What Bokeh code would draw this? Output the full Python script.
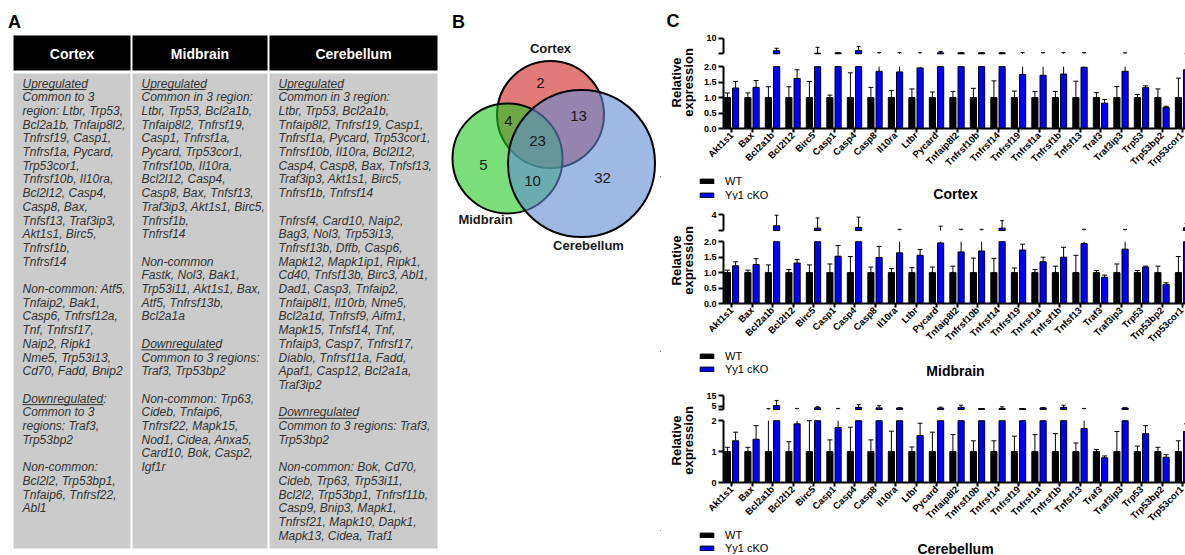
import numpy as np
from math import pi
from bokeh.plotting import figure
from bokeh.layouts import row, column
from bokeh.models import (Range1d, FixedTicker, NumeralTickFormatter,
                          Legend, LegendItem)
from bokeh.core.properties import value
from bokeh.embed import file_html
from bokeh.resources import INLINE

FONT = "Liberation Sans"

# ---------------------------------------------------------------- data
regions = ["Cortex", "Midbrain", "Cerebellum"]

cortex_lines = [
    "Upregulated", "Common to 3", "region: Ltbr, Trp53,", "Bcl2a1b, Tnfaip8l2,",
    "Tnfrsf19, Casp1,", "Tnfrsf1a, Pycard,", "Trp53cor1,", "Tnfrsf10b, Il10ra,",
    "Bcl2l12, Casp4,", "Casp8, Bax,", "Tnfsf13, Traf3ip3,", "Akt1s1, Birc5,",
    "Tnfrsf1b,", "Tnfrsf14", "", "Non-common: Atf5,", "Tnfaip2, Bak1,",
    "Casp6, Tnfrsf12a,", "Tnf, Tnfrsf17,", "Naip2, Ripk1", "Nme5, Trp53i13,",
    "Cd70, Fadd, Bnip2", "", "Downregulated:", "Common to 3", "regions: Traf3,",
    "Trp53bp2", "", "Non-common:", "Bcl2l2, Trp53bp1,", "Tnfaip6, Tnfrsf22,", "Abl1",
]
midbrain_lines = [
    "Upregulated", "Common in 3 region:", "Ltbr, Trp53, Bcl2a1b,", "Tnfaip8l2, Tnfrsf19,",
    "Casp1, Tnfrsf1a,", "Pycard, Trp53cor1,", "Tnfrsf10b, Il10ra,", "Bcl2l12, Casp4,",
    "Casp8, Bax, Tnfsf13,", "Traf3ip3, Akt1s1, Birc5,", "Tnfrsf1b,", "Tnfrsf14", "",
    "Non-common", "Fastk, Nol3, Bak1,", "Trp53i11, Akt1s1, Bax,", "Atf5, Tnfrsf13b,",
    "Bcl2a1a", "", "Downregulated", "Common to 3 regions:", "Traf3, Trp53bp2", "",
    "Non-common: Trp63,", "Cideb, Tnfaip6,", "Tnfrsf22, Mapk15,", "Nod1, Cidea, Anxa5,",
    "Card10, Bok, Casp2,", "Igf1r",
]
cerebellum_lines = [
    "Upregulated", "Common in 3 region:", "Ltbr, Trp53, Bcl2a1b,",
    "Tnfaip8l2, Tnfrsf19, Casp1,", "Tnfrsf1a, Pycard, Trp53cor1,",
    "Tnfrsf10b, Il10ra, Bcl2l12,", "Casp4, Casp8, Bax, Tnfsf13,",
    "Traf3ip3, Akt1s1, Birc5,", "Tnfrsf1b, Tnfrsf14", "",
    "Tnfrsf4, Card10, Naip2,", "Bag3, Nol3, Trp53i13,", "Tnfrsf13b, Dffb, Casp6,",
    "Mapk12, Mapk1ip1, Ripk1,", "Cd40, Tnfsf13b, Birc3, Abl1,", "Dad1, Casp3, Tnfaip2,",
    "Tnfaip8l1, Il10rb, Nme5,", "Bcl2a1d, Tnfrsf9, Aifm1,", "Mapk15, Tnfsf14, Tnf,",
    "Tnfaip3, Casp7, Tnfrsf17,", "Diablo, Tnfrsf11a, Fadd,", "Apaf1, Casp12, Bcl2a1a,",
    "Traf3ip2", "", "Downregulated", "Common to 3 regions: Traf3,", "Trp53bp2", "",
    "Non-common: Bok, Cd70,", "Cideb, Trp63, Trp53i11,", "Bcl2l2, Trp53bp1, Tnfrsf11b,",
    "Casp9, Bnip3, Mapk1,", "Tnfrsf21, Mapk10, Dapk1,", "Mapk13, Cidea, Traf1",
]

venn_sets = ["Cortex", "Midbrain", "Cerebellum"]
venn_regions = ["Cortex only", "Cortex+Midbrain", "Cortex+Cerebellum", "All three",
                "Midbrain only", "Midbrain+Cerebellum", "Cerebellum only"]
venn_counts = [2, 4, 13, 23, 5, 10, 32]

genes = ["Akt1s1", "Bax", "Bcl2a1b", "Bcl2l12", "Birc5", "Casp1", "Casp4", "Casp8",
         "Il10ra", "Ltbr", "Pycard", "Tnfaip8l2", "Tnfrsf10b", "Tnfrsf14", "Tnfrsf19",
         "Tnfrsf1a", "Tnfrsf1b", "Tnfsf13", "Traf3", "Traf3ip3", "Trp53", "Trp53bp2",
         "Trp53cor1"]
wt_mean = [1.0, 1.0, 1.0, 1.0, 1.0, 1.0, 1.0, 1.0, 1.0, 1.0, 1.0, 1.0,
           1.0, 1.0, 1.0, 1.0, 1.0, 1.0, 1.0, 1.0, 1.0, 1.0, 1.0]

cortex_wt_err = [1.15, 1.15, 1.35, 1.35, 1.52, 1.08, 1.80, 1.33, 1.23, 1.28, 1.18, 1.20,
                 1.30, 1.54, 1.21, 1.20, 1.20, 1.53, 1.16, 1.36, 1.10, 1.28, 1.63]
cortex_ko = [1.31, 1.33, 3.6, 1.62, 2.3, 2.5, 3.6, 1.85, 1.83, 1.96, 2.5, 2.5,
             2.5, 2.5, 1.75, 1.72, 1.76, 1.98, 0.82, 1.85, 1.32, 0.68, 1.90]
cortex_ko_err = [1.52, 1.55, 4.8, 1.90, 5.3, 2.5, 5.6, 2.6, 2.6, 2.6, 3.2, 2.5,
                 2.5, 2.5, 2.6, 2.6, 2.6, 2.6, 0.94, 2.5, 1.38, 0.72, 2.10]

midbrain_wt_err = [1.08, 1.08, 1.25, 1.10, 1.25, 1.28, 1.52, 1.18, 1.13, 1.16, 1.18, 1.21,
                   1.47, 1.46, 1.15, 1.10, 1.21, 1.56, 1.07, 1.28, 1.07, 1.21, 1.52]
midbrain_ko = [1.22, 1.26, 2.6, 1.31, 2.3, 1.53, 2.4, 1.49, 1.64, 1.56, 1.96, 1.67,
               1.70, 2.3, 1.73, 1.35, 1.50, 1.94, 0.85, 1.76, 1.18, 0.62, 2.35]
midbrain_ko_err = [1.35, 1.45, 3.95, 1.42, 3.6, 1.88, 3.7, 1.85, 2.15, 1.75, 2.55, 2.15,
                   2.15, 3.25, 1.92, 1.50, 1.82, 2.15, 0.92, 2.15, 1.21, 0.67, 2.9]

cerebellum_wt_err = [1.14, 1.14, 2.8, 1.32, 2.0, 1.38, 1.79, 1.38, 1.66, 1.15, 1.63, 1.55,
                     1.35, 1.35, 1.50, 1.55, 1.58, 1.28, 1.07, 1.65, 1.18, 1.14, 1.35]
cerebellum_ko = [1.35, 1.40, 5.7, 1.90, 3.6, 1.78, 4.0, 3.5, 3.4, 1.52, 3.3, 4.0,
                 2.8, 3.0, 2.8, 3.5, 4.0, 1.75, 0.80, 3.4, 1.58, 0.82, 1.65]
cerebellum_ko_err = [1.63, 1.84, 10.4, 3.0, 4.5, 3.0, 6.5, 5.5, 3.6, 1.92, 4.2, 6.0,
                     2.8, 4.5, 2.8, 3.6, 6.0, 3.0, 0.86, 3.5, 1.84, 0.90, 1.90]

series_names = ["WT", "Yy1 cKO"]

BLUE = "#0000FF"
COMMON = dict(output_backend="svg", toolbar_location=None)


def bare(p):
    p.grid.grid_line_color = None
    p.outline_line_color = None
    p.background_fill_color = "white"
    p.border_fill_color = "white"
    return p


def canvas_fig(w, h, x0, x1, ytop, ybot):
    """A figure whose data coordinates equal page pixels."""
    p = figure(width=w, height=h, x_range=Range1d(x0, x1), y_range=Range1d(ybot, ytop),
               x_axis_location=None, y_axis_location=None, min_border=0, **COMMON)
    return bare(p)


# ---------------------------------------------------------------- panel A
def panel_a():
    p = canvas_fig(445, 555, 0, 445, 0, 555)
    cols = [(13, 130), (132, 267), (269, 437)]
    p.quad(left=[c[0] for c in cols], right=[c[1] for c in cols], top=[35] * 3,
           bottom=[70] * 3, fill_color="black", line_color=None)
    p.quad(left=[c[0] for c in cols], right=[c[1] for c in cols], top=[73] * 3,
           bottom=[548] * 3, fill_color="#CBCBCB", line_color=None)
    p.text(x=[(c[0] + c[1]) / 2 for c in cols], y=[53] * 3, text=regions,
           text_font=value(FONT), text_font_style="bold", text_font_size="14px",
           text_color="white", text_align="center", text_baseline="middle")
    xs, ys, ts = [], [], []
    ux0, ux1, uy = [], [], []
    uw = {"Upregulated": 64, "Downregulated": 78, "Downregulated:": 81}
    for (c0, _), lines in zip(cols, [cortex_lines, midbrain_lines, cerebellum_lines]):
        for i, t in enumerate(lines):
            if not t:
                continue
            x, y = c0 + 9, 83 + i * 13.7
            xs.append(x); ys.append(y); ts.append(t)
            if t in uw:
                ux0.append(x); ux1.append(x + uw[t]); uy.append(y + 6)
    p.text(x=xs, y=ys, text=ts, text_font=value(FONT), text_font_style="italic",
           text_font_size="12px", text_color="#333333", text_baseline="middle")
    p.segment(x0=ux0, y0=uy, x1=ux1, y1=uy, line_color="#333333", line_width=1)
    p.text(x=[14], y=[21], text=["A"], text_font=value(FONT), text_font_style="bold",
           text_font_size="18px", text_align="center", text_baseline="middle")
    return p


# ---------------------------------------------------------------- panel B
def panel_b():
    p = canvas_fig(215, 555, 445, 660, 0, 555)
    circ = {"Cortex": (550, 114, 53.5, "#CF2121"),
            "Midbrain": (507, 158, 55, "#21C821"),
            "Cerebellum": (581, 163, 73.5, "#618AD2")}
    for name in ["Cortex", "Midbrain", "Cerebellum"]:
        cx, cy, r, col = circ[name]
        p.circle(x=[cx], y=[cy], radius=r, fill_color=col, fill_alpha=0.6,
                 line_color="black", line_width=2)
    set_pos = {"Cortex": (550, 48), "Midbrain": (485, 219), "Cerebellum": (588, 245)}
    p.text(x=[set_pos[s][0] for s in venn_sets], y=[set_pos[s][1] for s in venn_sets],
           text=venn_sets, text_font=value(FONT), text_font_style="bold",
           text_font_size="13px", text_align="center", text_baseline="middle",
           text_color="#1a1a1a")
    reg_pos = [(540, 82), (508, 120), (578, 115), (537, 140), (483, 164), (532, 180), (602, 177)]
    p.text(x=[q[0] for q in reg_pos], y=[q[1] for q in reg_pos],
           text=[str(c) for c in venn_counts], text_font=value(FONT),
           text_font_size="15px", text_align="center", text_baseline="middle",
           text_color="#1a1a1a")
    p.text(x=[458], y=[21], text=["B"], text_font=value(FONT), text_font_style="bold",
           text_font_size="18px", text_align="center", text_baseline="middle")
    return p


# ---------------------------------------------------------------- panel C
C_LEFT = 660           # page x where panel C starts
STRIP_R = 697          # page x where the plot figures start
FRAME_LEFT = 723       # page x of plot frame left edge
PAGE_R = 1185
GROUP_PX = 20.5
X0 = -(731 - FRAME_LEFT) / GROUP_PX
X1 = X0 + (PAGE_R - FRAME_LEFT) / GROUP_PX


def style_axis(ax, size="9px"):
    ax.axis_line_width = 2
    ax.axis_line_color = "black"
    ax.major_tick_line_width = 2
    ax.major_tick_line_color = "black"
    ax.major_tick_out = 5
    ax.major_tick_in = 0
    ax.minor_tick_line_color = None
    ax.major_label_text_font = FONT
    ax.major_label_text_font_style = "bold"
    ax.major_label_text_font_size = size
    ax.major_label_text_color = "black"
    ax.major_label_standoff = 2


def make_chart(title, wt_err, ko, ko_err, g, letter=None):
    top, split, low_bot, bottom = g["top"], g["split"], g["low_bottom"], g["bottom"]
    ft, fb = g["frame_top"], g["zero_y"]
    W = PAGE_R - STRIP_R

    idx = np.arange(len(genes), dtype=float)
    wt = np.array(wt_mean); we = np.array(wt_err)
    k = np.array(ko); ke = np.array(ko_err)
    xw, xk = idx - 0.2, idx + 0.2
    BW = 0.3

    # ---- upper segment of the broken axis
    up_ticks = g["up_ticks"]
    up_top_val = up_ticks[-1]
    ppu_u = (g["up_bot_y"] - g["up_top_y"]) / (up_top_val - 2.0)
    pu = figure(width=W, height=split - top, x_range=Range1d(X0, X1),
                y_range=Range1d(2.0 - (split - g["up_bot_y"]) / ppu_u,
                                up_top_val + (g["up_top_y"] - ft) / ppu_u),
                x_axis_location=None, min_border_left=FRAME_LEFT - STRIP_R,
                min_border_right=0, min_border_top=ft - top, min_border_bottom=0, **COMMON)
    bare(pu)
    ya = pu.yaxis[0]
    ya.ticker = FixedTicker(ticks=[2] + up_ticks)
    ya.bounds = (2, up_top_val)
    ya.major_label_overrides = {2: ""}
    style_axis(ya)

    # ---- lower segment (0 - 2)
    ppu = (fb - g["two_y"]) / 2.0
    pl = figure(width=W, height=low_bot - split, x_range=Range1d(X0, X1),
                y_range=Range1d(0, (fb - split) / ppu),
                min_border_left=FRAME_LEFT - STRIP_R, min_border_right=0,
                min_border_top=0, min_border_bottom=low_bot - fb, **COMMON)
    bare(pl)
    yl = pl.yaxis[0]
    yl.ticker = FixedTicker(ticks=g["low_ticks"])
    yl.bounds = (0, 2)
    yl.formatter = NumeralTickFormatter(format=g["fmt"])
    style_axis(yl)
    xa = pl.xaxis[0]
    xa.ticker = FixedTicker(ticks=[int(i) for i in idx])
    xa.major_label_overrides = {int(i): gname for i, gname in enumerate(genes)}
    xa.major_label_orientation = pi / 4
    style_axis(xa, size="9.5px")
    xa.major_tick_out = 4
    xa.major_label_standoff = 1

    # bars
    pl.vbar(x=xw, top=np.minimum(wt, 2.0), width=BW, fill_color="black",
            line_color="black", line_width=1)
    pl.vbar(x=xk, top=np.minimum(k, 2.0), width=BW, fill_color=BLUE,
            line_color="black", line_width=1)
    m = k > 2.0
    pu.vbar(x=xk[m], bottom=2.0, top=k[m], width=BW, fill_color=BLUE,
            line_color="black", line_width=1)
    m = wt > 2.0
    if m.any():
        pu.vbar(x=xw[m], bottom=2.0, top=wt[m], width=BW, fill_color="black",
                line_color="black", line_width=1)

    def errbars(x, v, e):
        lo = (e > v) & (v < 2.0)
        pl.segment(x0=x[lo], y0=v[lo], x1=x[lo], y1=np.minimum(e[lo], 2.0),
                   line_color="black", line_width=1)
        cap = lo & (e <= 2.0)
        pl.scatter(x=x[cap], y=e[cap], marker="dash", size=5, line_color="black",
                   line_width=1)
        up = e > 2.0
        pu.segment(x0=x[up], y0=np.maximum(v[up], 2.0), x1=x[up], y1=e[up],
                   line_color="black", line_width=1)
        pu.scatter(x=x[up], y=e[up], marker="dash", size=4, line_color="black",
                   line_width=1)

    errbars(xw, wt, we)
    errbars(xk, k, ke)

    # ---- left strip: axis title (and panel letter)
    ps = canvas_fig(STRIP_R - C_LEFT, low_bot - top, C_LEFT, STRIP_R, top, low_bot)
    ps.text(x=[675.5, 688], y=[g["label_y"]] * 2, text=["Relative", "expression"],
            angle=pi / 2, text_font=value(FONT), text_font_style="bold",
            text_font_size="13px", text_align="center", text_baseline="middle",
            text_color="black")
    if letter:
        ps.text(x=[672.5], y=[20], text=[letter], text_font=value(FONT),
                text_font_style="bold", text_font_size="18px", text_align="center",
                text_baseline="middle", text_color="black")

    # ---- bottom strip: legend and chart title
    pb = canvas_fig(PAGE_R - C_LEFT, bottom - low_bot, C_LEFT, PAGE_R, low_bot, bottom)
    pb.text(x=[955], y=[g["title_y"]], text=[title], text_font=value(FONT),
            text_font_style="bold", text_font_size="14px", text_align="center",
            text_baseline="middle", text_color="black")
    # legend swatches (kept off-canvas; only their legend entries show)
    r_wt = pb.vbar(x=[-1000], top=[1], width=1, fill_color="black", line_color="black")
    r_ko = pb.vbar(x=[-1000], top=[1], width=1, fill_color=BLUE, line_color="black")
    for name, rend, yc in [(series_names[0], r_wt, g["leg_y"][0]),
                           (series_names[1], r_ko, g["leg_y"][1])]:
        leg = Legend(items=[LegendItem(label=name, renderers=[rend])],
                     location=(698 - C_LEFT, bottom - yc - 6),
                     glyph_width=17, glyph_height=6, label_height=12, label_standoff=10,
                     padding=0, margin=0, spacing=0, label_text_font=FONT,
                     label_text_font_size="11px", label_text_color="black",
                     border_line_color=None, background_fill_alpha=0)
        pb.add_layout(leg)

    return column(row(ps, column(pu, pl)), pb)


geo_cortex = dict(top=0, split=58, low_bottom=176, bottom=200, frame_top=30, zero_y=131,
                  two_y=66.5, up_top_y=37.5, up_bot_y=53.3, up_ticks=[10],
                  low_ticks=[0, 0.5, 1, 1.5, 2], fmt="0.0",
                  leg_y=(181, 194.5), title_y=193, label_y=82)
geo_midbrain = dict(top=200, split=233, low_bottom=351, bottom=378, frame_top=207,
                    zero_y=307, two_y=241.7, up_top_y=214.3, up_bot_y=230, up_ticks=[4],
                    low_ticks=[0, 0.5, 1, 1.5, 2], fmt="0.0",
                    leg_y=(355.5, 369), title_y=370, label_y=260)
geo_cereb = dict(top=378, split=412, low_bottom=530, bottom=555, frame_top=388,
                 zero_y=486, two_y=420.7, up_top_y=395, up_bot_y=409, up_ticks=[5, 15],
                 low_ticks=[0, 1, 2], fmt="0",
                 leg_y=(534.5, 548), title_y=548, label_y=440)

c1 = make_chart("Cortex", cortex_wt_err, cortex_ko, cortex_ko_err, geo_cortex, letter="C")
c2 = make_chart("Midbrain", midbrain_wt_err, midbrain_ko, midbrain_ko_err, geo_midbrain)
c3 = make_chart("Cerebellum", cerebellum_wt_err, cerebellum_ko, cerebellum_ko_err, geo_cereb)

layout = row(panel_a(), panel_b(), column(c1, c2, c3))

open("out.html", "w").write(file_html(layout, INLINE))
